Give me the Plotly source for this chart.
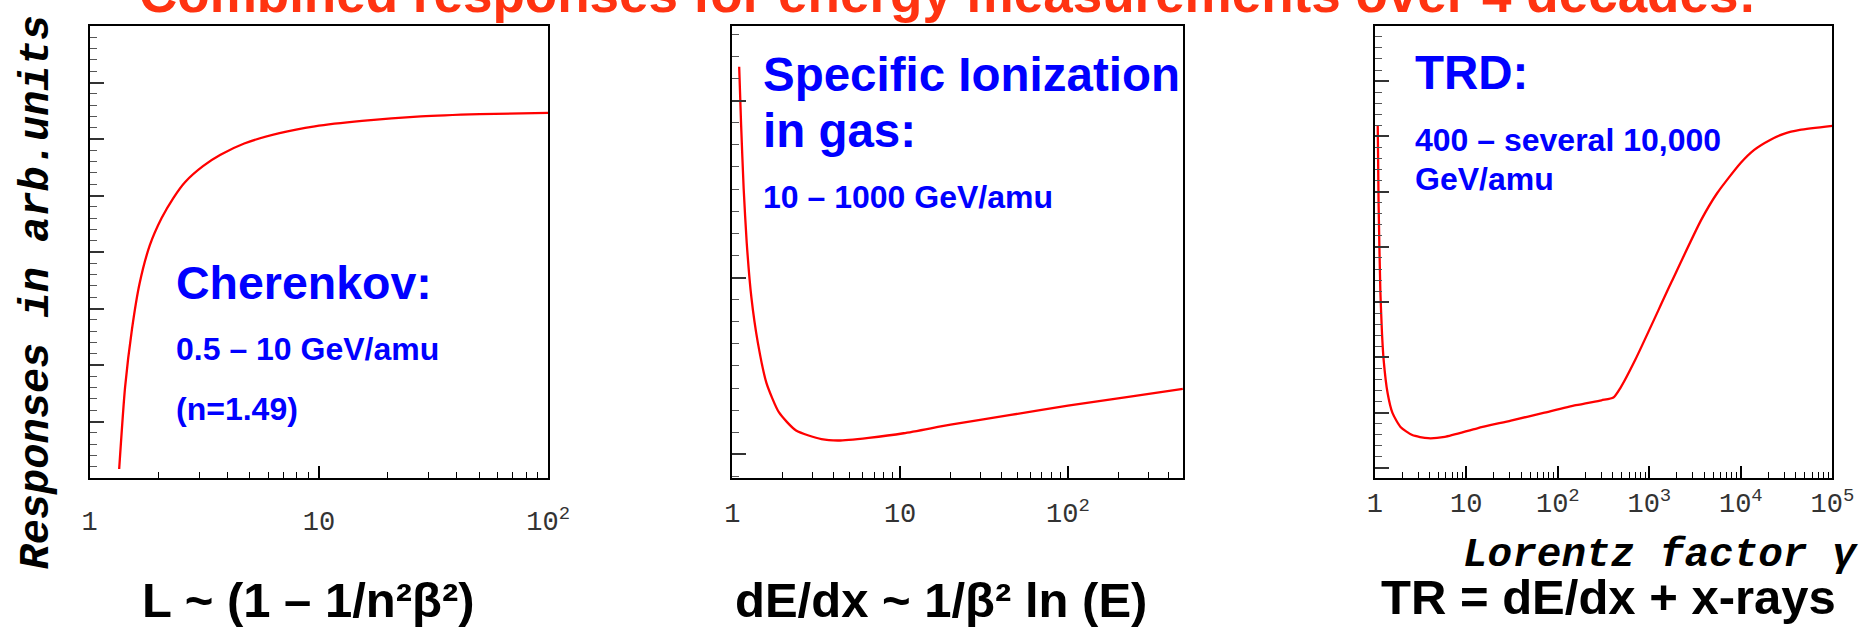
import plotly.graph_objects as go

W, H = 1876, 627

# ---------------- data ----------------
cher_gamma = [1.345, 1.427, 1.53, 1.65, 1.83, 2.06, 2.32, 2.61, 3.12, 3.72, 4.72, 6.73, 9.59, 15.4, 27.8, 50.3, 100]
cher_resp = [2.0, 20.1, 33.0, 43.0, 51.5, 57.5, 62.0, 65.5, 69.0, 71.5, 74.0, 76.3, 77.8, 79.0, 80.0, 80.5, 80.8]

ion_gamma = [1.10, 1.13, 1.17, 1.22, 1.30, 1.42, 1.60, 1.90, 2.40, 3.40, 4.30, 6.50, 10.5, 20.0, 44.7, 100, 224, 484]
ion_resp = [91.0, 78.0, 64.0, 52.0, 40.0, 30.0, 21.0, 14.5, 10.5, 8.6, 8.3, 8.9, 9.9, 11.8, 13.9, 16.0, 17.9, 19.7]

trd_gamma = [1.077, 1.10, 1.15, 1.20, 1.25, 1.38, 1.56, 1.91, 2.57, 3.82, 5.82, 13.2, 30.7, 69.6, 157.8, 300, 405,
             482, 700, 1750, 3690, 5500, 9950, 14000, 20900, 30000, 44100, 100000]
trd_resp = [78.1, 60.9, 41.5, 31.8, 26.1, 18.8, 14.4, 11.3, 9.5, 8.8, 9.1, 11.0, 12.7, 14.4, 16.1, 17.2, 17.8,
            19.9, 26.1, 43.4, 57.1, 63.0, 69.7, 72.6, 74.8, 76.2, 77.0, 77.9]

x1_tickvals = [1, 10, 100]
x1_ticktext = ["1", "10", "10<sup>2</sup>"]
x2_tickvals = [1, 10, 100]
x2_ticktext = ["1", "10", "10<sup>2</sup>"]
x3_tickvals = [1, 10, 100, 1000, 10000, 100000]
x3_ticktext = ["1", "10", "10<sup>2</sup>", "10<sup>3</sup>", "10<sup>4</sup>", "10<sup>5</sup>"]

title_text = "Combined responses for energy measurements over 4 decades:"
ylabel_text = "Responses in arb.units"
xlabel_text = "Lorentz factor γ"
formulas = ["L ~ (1 – 1/n²β²)", "dE/dx ~ 1/β² ln (E)", "TR = dE/dx + x-rays"]

# ---------------- layout geometry (pixels) ----------------
X_DOM = [(83, 549), (736, 1194), (1389, 1854)]
Y_TOP, Y_BOT = 26, 478
X_MAX_LOG = [2.0, 2.685, 5.0]
LABEL_STANDOFF = [18, 10, 0]
Y_TICKS = [  # tick0, dtick, minor dtick
    (0.0, 12.5, 2.5),
    (5.24, 39.1, 4.89),
    (2.21, 12.23, 2.446),
]


def px_x(p):
    return p / W


def px_y(p):
    return 1 - p / H


def minor_vals(maxlog):
    vals = []
    for d in range(0, 6):
        for m in range(2, 10):
            v = m * 10 ** d
            if v < 10 ** maxlog:
                vals.append(v)
    return vals


fig = go.Figure()
curves = [(cher_gamma, cher_resp), (ion_gamma, ion_resp), (trd_gamma, trd_resp)]
for i, (gx, gy) in enumerate(curves):
    sfx = "" if i == 0 else str(i + 1)
    fig.add_trace(go.Scatter(
        x=gx, y=gy, mode="lines",
        line=dict(color="#ff0000", width=2.3, shape="spline", smoothing=0.6),
        xaxis="x" + sfx, yaxis="y" + sfx, showlegend=False, hoverinfo="skip",
    ))

MONO = "Liberation Mono, Courier New, monospace"
SANS = "Liberation Sans, Arial, Helvetica"

tickvals_all = [x1_tickvals, x2_tickvals, x3_tickvals]
ticktext_all = [x1_ticktext, x2_ticktext, x3_ticktext]
layout = dict(
    width=W, height=H, autosize=False,
    margin=dict(l=0, r=0, t=0, b=0),
    paper_bgcolor="white", plot_bgcolor="white",
    showlegend=False,
)
for i in range(3):
    sfx = "" if i == 0 else str(i + 1)
    a, b = X_DOM[i]
    layout["xaxis" + sfx] = dict(
        type="log", range=[0, X_MAX_LOG[i]], domain=[px_x(a), px_x(b)],
        anchor="y" + sfx,
        showline=True, linewidth=2, linecolor="black", mirror=True,
        ticks="inside", ticklen=12, tickwidth=1.5, tickcolor="black",
        tickmode="array", tickvals=tickvals_all[i], ticktext=ticktext_all[i],
        tickfont=dict(family=MONO, size=27, color="#333333"),
        ticklabelstandoff=LABEL_STANDOFF[i],
        minor=dict(tickmode="array", tickvals=minor_vals(X_MAX_LOG[i]), ticks="inside",
                   ticklen=6, tickwidth=1.2, tickcolor="black", showgrid=False),
        showgrid=False, zeroline=False,
    )
    t0, dt, mdt = Y_TICKS[i]
    layout["yaxis" + sfx] = dict(
        range=[0, 100], domain=[px_y(Y_BOT), px_y(Y_TOP)],
        anchor="x" + sfx,
        showline=True, linewidth=2, linecolor="black", mirror=True,
        ticks="inside", ticklen=14, tickwidth=1.5, tickcolor="#333333",
        tickmode="linear", tick0=t0, dtick=dt, showticklabels=False,
        minor=dict(tick0=t0, dtick=mdt, ticks="inside", ticklen=7, tickwidth=1.2,
                   tickcolor="#555555", showgrid=False),
        showgrid=False, zeroline=False,
    )

BLUE = "#0000ff"


def ann(text, x, y, size, color, family=SANS, xanchor="left", yanchor="middle", bold=True,
        italic=False, angle=0):
    t = text
    if bold:
        t = "<b>" + t + "</b>"
    if italic:
        t = "<i>" + t + "</i>"
    return dict(text=t, x=px_x(x), y=px_y(y), xref="paper", yref="paper",
                xanchor=xanchor, yanchor=yanchor, showarrow=False, textangle=angle,
                font=dict(family=family, size=size, color=color))


annotations = [
    ann(title_text, 955, -6.5, 53, "#ff3311", xanchor="center"),
    ann(ylabel_text, 29, 292, 42, "black", family=MONO, xanchor="center", bold=True, italic=True, angle=-90),
    ann(xlabel_text, 1882, 555, 41, "black", family=MONO, xanchor="right", bold=True, italic=True),
    ann(formulas[0], 305, 600, 49, "black", xanchor="center"),
    ann(formulas[1], 948, 600, 49, "black", xanchor="center"),
    ann(formulas[2], 1627, 597, 49, "black", xanchor="center"),
    # Cherenkov panel
    ann("Cherenkov:", 169, 283, 46.5, BLUE),
    ann("0.5 – 10 GeV/amu", 169, 349, 32, BLUE),
    ann("(n=1.49)", 169, 409, 32, BLUE),
    # Ionization panel
    ann("Specific Ionization", 765, 74, 47.5, BLUE),
    ann("in gas:", 765, 131, 47.5, BLUE),
    ann("10 – 1000 GeV/amu", 765, 197, 32, BLUE),
    # TRD panel
    ann("TRD:", 1428, 73, 47.5, BLUE),
    ann("400 – several 10,000", 1428, 140, 32, BLUE),
    ann("GeV/amu", 1428, 179, 32, BLUE),
]
layout["annotations"] = annotations
fig.update_layout(**layout)
fig.write_html("out.html")
